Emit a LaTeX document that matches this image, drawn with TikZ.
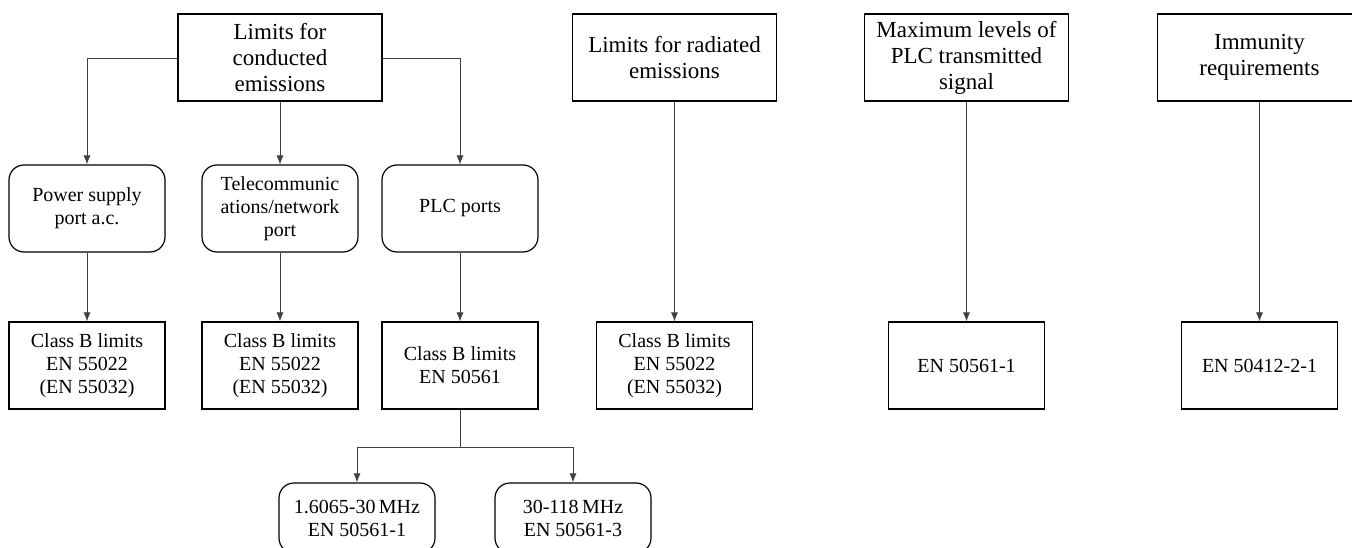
\documentclass[tikz,border=0pt]{standalone}
\usepackage{fontspec}
\setmainfont{Liberation Serif}
\usetikzlibrary{arrows.meta}
\begin{document}
\begin{tikzpicture}[x=1pt,y=-1pt,
  every node/.style={font=\fontsize{20}{23}\selectfont, align=center, inner sep=0pt},
  sqbox/.style={draw=black, line width=1.2pt, minimum height=87pt},
  wide/.style={sqbox, minimum width=204pt, font=\fontsize{23}{26}\selectfont},
  narrow/.style={sqbox, minimum width=156pt},
  rbox/.style={draw=black, line width=1.2pt, rounded corners=15pt, minimum width=156pt, minimum height=87pt},
  conn/.style={draw=black!75, line width=0.8pt, -{Latex[length=9pt,width=7pt]}},
  plain/.style={draw=black!75, line width=0.8pt}]
\useasboundingbox (0,0) rectangle (1352,548);
\clip (0,0) rectangle (1352,548);
% top row
\node[wide] (cond) at (280,57.5) {Limits for\\conducted\\emissions};
\node[wide] (rad) at (674.5,57.5) {Limits for radiated\\emissions};
\node[wide] (maxl) at (966.5,57.5) {Maximum levels of\\PLC transmitted\\signal};
\node[wide] (imm) at (1259.5,57.5) {Immunity\\requirements};
% ports
\node[rbox] (psu) at (87,208.5) {Power supply\\port a.c.};
\node[rbox] (tel) at (280,208.5) {Telecommunic\\ations/network\\port};
\node[rbox] (plc) at (460,208.5) {PLC ports};
% standards
\node[narrow] (cb1) at (87,365.5) {Class B limits\\EN 55022\\(EN 55032)};
\node[narrow] (cb2) at (280,365.5) {Class B limits\\EN 55022\\(EN 55032)};
\node[narrow] (cb3) at (460,365.5) {Class B limits\\EN 50561};
\node[narrow] (cb4) at (674.5,365.5) {Class B limits\\EN 55022\\(EN 55032)};
\node[narrow] (en1) at (966.5,365.5) {EN 50561-1};
\node[narrow] (en2) at (1259.5,365.5) {EN 50412-2-1};
% frequency bands
\node[rbox, minimum height=70pt] (f1) at (357,518) {1.6065-30\,MHz\\EN 50561-1};
\node[rbox, minimum height=70pt] (f2) at (573,518) {30-118\,MHz\\EN 50561-3};
\coordinate (split) at (460,447);
% connectors
\draw[conn] (cond.west |- 0,58) -| (psu.north);
\draw[conn] (cond.east |- 0,58) -| (plc.north);
\draw[conn] (cond.south) -- (tel.north);
\draw[conn] (psu.south) -- (cb1.north);
\draw[conn] (tel.south) -- (cb2.north);
\draw[conn] (plc.south) -- (cb3.north);
\draw[plain] (cb3.south) -- (split);
\draw[conn] (split) -| (f1.north);
\draw[conn] (split) -| (f2.north);
\draw[conn] (rad.south) -- (cb4.north);
\draw[conn] (maxl.south) -- (en1.north);
\draw[conn] (imm.south) -- (en2.north);
\end{tikzpicture}
\end{document}
